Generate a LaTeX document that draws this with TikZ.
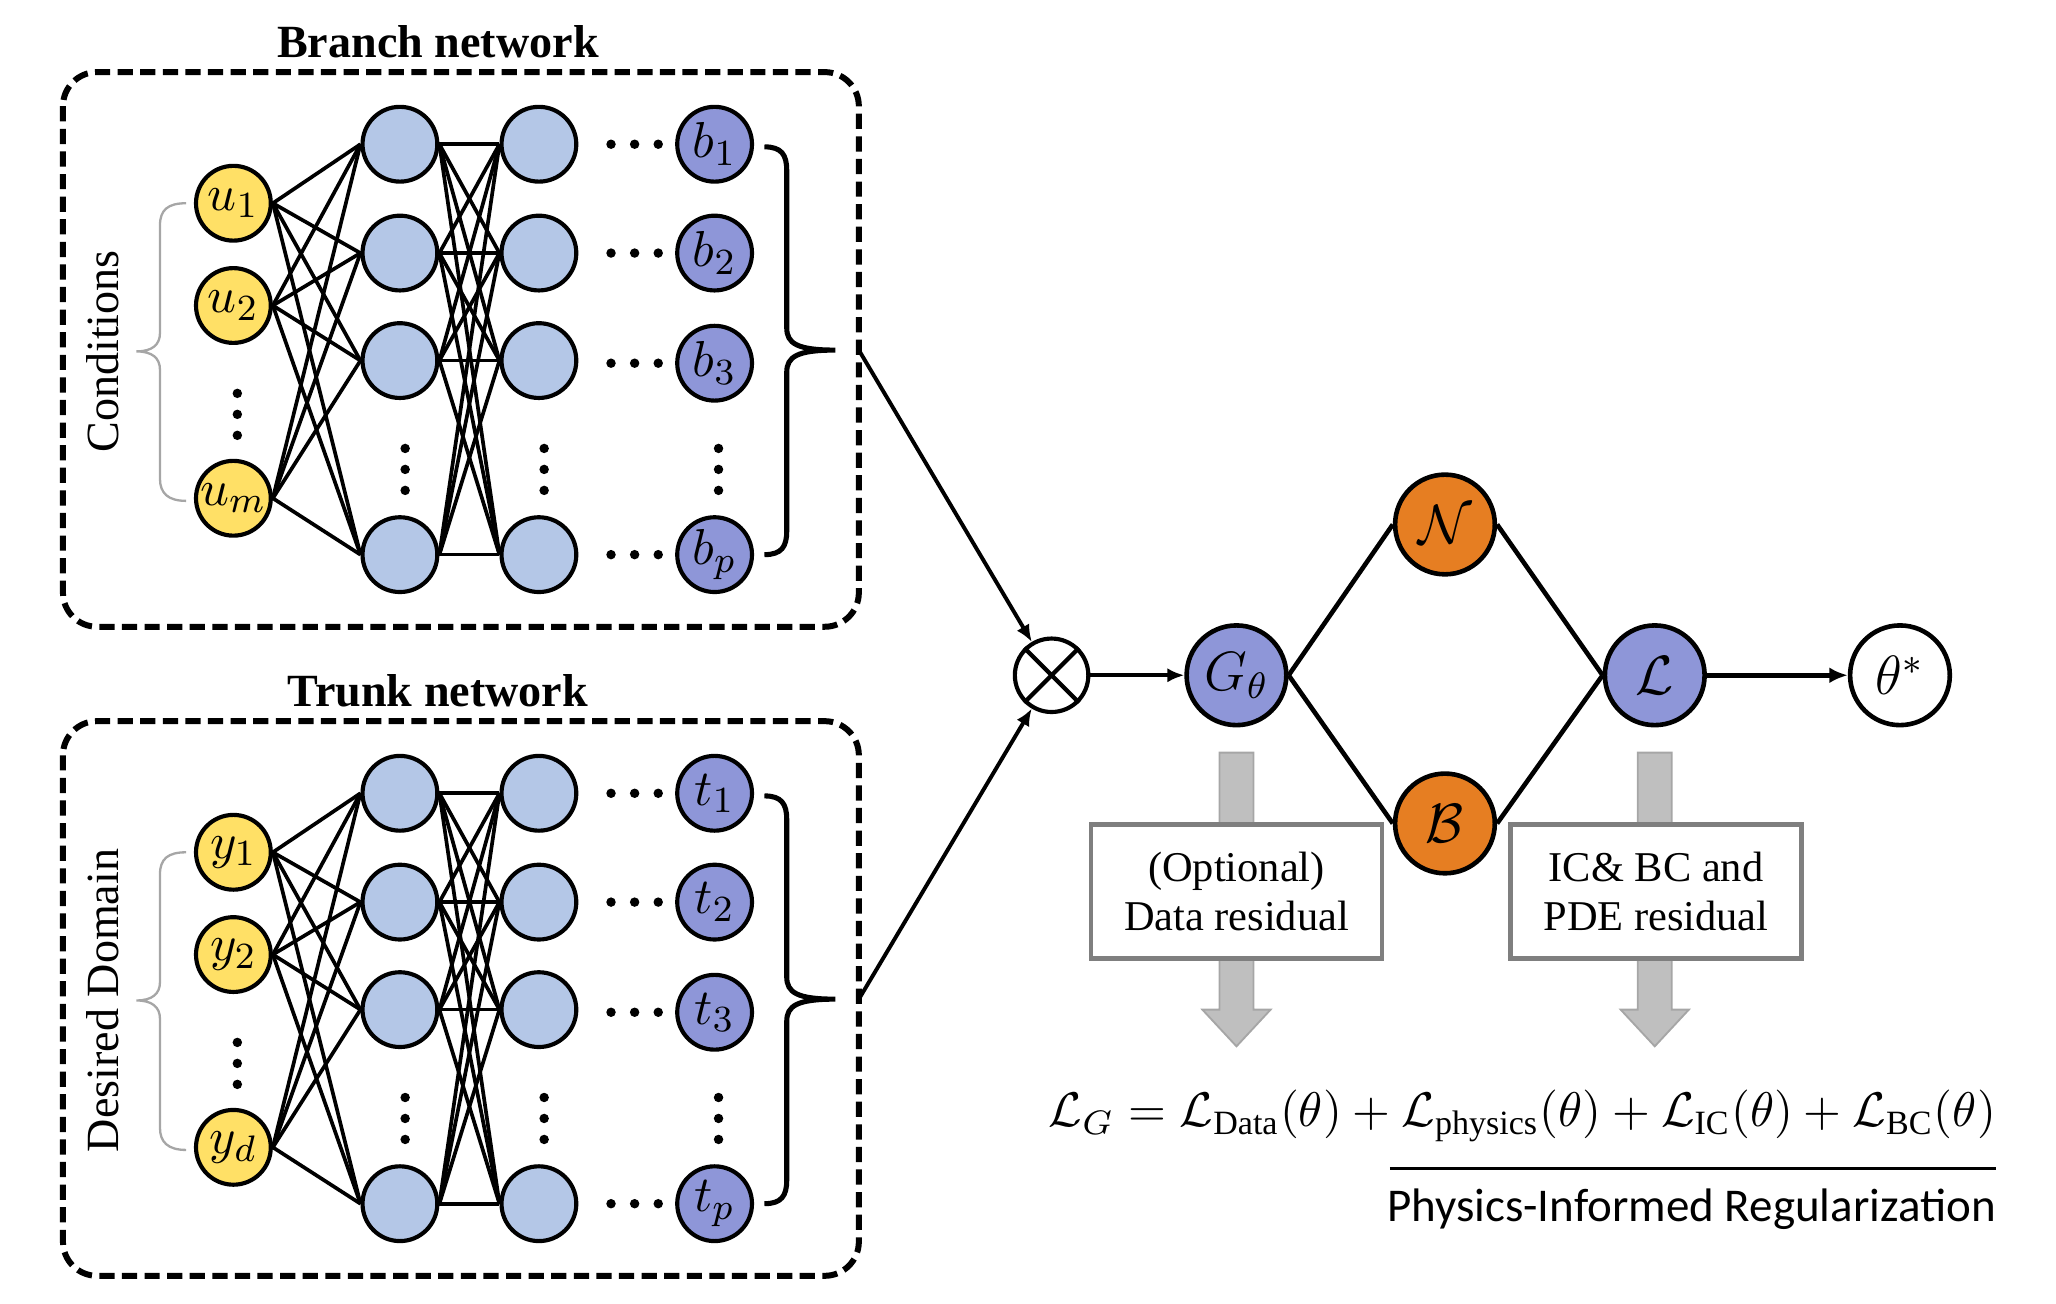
\documentclass[tikz,border=0pt]{standalone}
\usepackage{amsmath}
\usepackage{fontspec}
\setmainfont{Liberation Serif}
\newfontfamily\calibfont{Carlito}
\usepackage{graphicx}
\usetikzlibrary{arrows.meta,calc}
\definecolor{inyel}{HTML}{FFE066}
\definecolor{hidblue}{HTML}{B4C7E7}
\definecolor{outpur}{HTML}{8E96D8}
\definecolor{orng}{HTML}{E67E22}
\definecolor{boxgray}{HTML}{7F7F7F}
\definecolor{shaftgray}{HTML}{BFBFBF}
\definecolor{bracegray}{HTML}{A6A6A6}
\tikzset{
 neuron/.style={circle, draw=black, line width=0.9pt, minimum size=0.57cm, inner sep=0pt, font=\fontsize{11}{12}\selectfont},
 innode/.style={neuron, fill=inyel},
 hidnode/.style={neuron, fill=hidblue},
 outnode/.style={neuron, fill=outpur},
 bignode/.style={circle, draw=black, line width=1pt, minimum size=0.76cm, inner sep=0pt, font=\fontsize{12}{14}\selectfont},
 conn/.style={line width=0.8pt},
 link/.style={line width=1pt},
 netbox/.style={draw=black, line width=1.3pt, dash pattern=on 3.3pt off 1.6pt, rounded corners=0.26cm},
 titlestyle/.style={font=\fontsize{10}{12}\selectfont\bfseries},
 sidelabel/.style={font=\fontsize{10}{12}\selectfont, rotate=90},
 arr/.style={line width=0.85pt, -{Latex[length=0.13cm,width=0.11cm]}},
 thickarr/.style={line width=1.2pt, -{Latex[length=0.14cm,width=0.12cm]}},
 resbox/.style={draw=boxgray, fill=white, line width=1pt, minimum width=2.22cm, minimum height=1.02cm, align=center, font=\fontsize{9.2}{10.5}\selectfont, inner sep=0pt},
 graybrace/.style={draw=bracegray, line width=0.5pt},
 bigbrace/.style={draw=black, line width=1.1pt},
 shaft/.style={fill=shaftgray, draw=bracegray, line width=0.4pt},
}
\begin{document}
\begin{tikzpicture}[x=0.01cm,y=-0.01cm]
\useasboundingbox (0,0) rectangle (1568,994);

\foreach \p/\dy/\iv/\im/\ov/\ttl/\sl in {b/0/u/m/b/Branch network/Conditions, t/495/y/d/t/Trunk network/Desired Domain} {
  % box and labels
  \draw[netbox] (48,55+\dy) rectangle (655,478+\dy);
  \node[titlestyle] (\p title) at (334,32+\dy) {\ttl};
  \node[sidelabel] (\p side) at (78,268+\dy) {\sl};
  % nodes
  \node[innode] (\p i1) at (178,155+\dy) {$\iv_1$};
  \node[innode] (\p i2) at (178,233+\dy) {$\iv_2$};
  \node[innode] (\p i3) at (178,380+\dy) {$\iv_\im$};
  \foreach \k/\yy in {1/110,2/193,3/275,4/423} {
    \node[hidnode] (\p h\k) at (305,\yy+\dy) {};
    \node[hidnode] (\p k\k) at (411,\yy+\dy) {};
  }
  \node[outnode] (\p o1) at (545,110+\dy) {$\ov_1$};
  \node[outnode] (\p o2) at (545,193+\dy) {$\ov_2$};
  \node[outnode] (\p o3) at (545,277+\dy) {$\ov_3$};
  \node[outnode] (\p o4) at (545,423+\dy) {$\ov_p$};
  % connections
  \foreach \a in {1,2,3} \foreach \b in {1,...,4} \draw[conn] (\p i\a.east) -- (\p h\b.west);
  \foreach \a in {1,...,4} \foreach \b in {1,...,4} \draw[conn] (\p h\a.east) -- (\p k\b.west);
  % dots
  \foreach \yy in {110,193,277,423} \foreach \xx in {466,484,502} \fill (\xx,\yy+\dy) circle[radius=0.036cm];
  \foreach \yy in {300,316,332} \fill (181,\yy+\dy) circle[radius=0.036cm];
  \foreach \xx in {309,415,548} \foreach \yy in {342,358,374} \fill (\xx,\yy+\dy) circle[radius=0.036cm];
  % gray brace on inputs
  \draw[graybrace] (142,155+\dy) .. controls (128,155+\dy) and (122,160+\dy) .. (122,172+\dy) -- (122,254+\dy) .. controls (122,263+\dy) and (116,268+\dy) .. (104,268+\dy) .. controls (116,268+\dy) and (122,273+\dy) .. (122,282+\dy) -- (122,365+\dy) .. controls (122,376+\dy) and (128,382+\dy) .. (142,382+\dy);
  % output brace
  \draw[bigbrace] (583,112+\dy) .. controls (596,112+\dy) and (600,118+\dy) .. (600,130+\dy) -- (600,250+\dy) .. controls (600,262+\dy) and (608,267+\dy) .. (637,267+\dy) .. controls (608,267+\dy) and (600,272+\dy) .. (600,284+\dy) -- (600,405+\dy) .. controls (600,417+\dy) and (596,423+\dy) .. (583,423+\dy);
  \coordinate (\p out) at (655,267+\dy);
}

% operator network part
\node[circle, draw=black, line width=0.9pt, minimum size=0.56cm, inner sep=0pt] (ot) at (802,515) {};
\draw[line width=0.9pt] (ot.north west) -- (ot.south east) (ot.north east) -- (ot.south west);
\draw[arr] (bout) -- (ot);
\draw[arr] (tout) -- (ot);

\node[bignode, fill=outpur] (G) at (943,515) {$G_\theta$};
\node[bignode, fill=orng] (N) at (1102,400) {$\mathcal{N}$};
\node[bignode, fill=orng] (B) at (1102,628) {$\mathcal{B}$};
\node[bignode, fill=outpur] (L) at (1262,515) {$\mathcal{L}$};
\node[bignode, fill=white] (T) at (1449,515) {$\theta^*$};

\draw[arr] (ot) -- (G);
\draw[link] (G.east) -- (N.west);
\draw[link] (G.east) -- (B.west);
\draw[link] (N.east) -- (L.west);
\draw[link] (B.east) -- (L.west);
\draw[thickarr] (L) -- (T);

% gray arrows and residual boxes
\path[shaft] (930,574) -- (956,574) -- (956,770) -- (969,770) -- (943,798) -- (917,770) -- (930,770) -- cycle;
\path[shaft] (1249,574) -- (1275,574) -- (1275,770) -- (1288,770) -- (1262,798) -- (1236,770) -- (1249,770) -- cycle;
\node[resbox] (r1) at (943,680) {(Optional)\\Data residual};
\node[resbox] (r2) at (1263,680) {IC\& BC and\\PDE residual};

% loss formula
\node[inner sep=0pt] (loss) at (1161,851) {\resizebox{7.22cm}{!}{$\mathcal{L}_G = \mathcal{L}_{\text{Data}}(\theta) + \mathcal{L}_{\text{physics}}(\theta) + \mathcal{L}_{\text{IC}}(\theta) + \mathcal{L}_{\text{BC}}(\theta)$}};
\coordinate (ula) at (1060,891);
\coordinate (ulb) at (1522,891);
\draw[line width=0.6pt] (ula) -- (ulb);
\node[inner sep=0pt] (reg) at (1290,922) {\resizebox{4.64cm}{!}{\calibfont Physics-Informed Regularization}};
\end{tikzpicture}
\end{document}
